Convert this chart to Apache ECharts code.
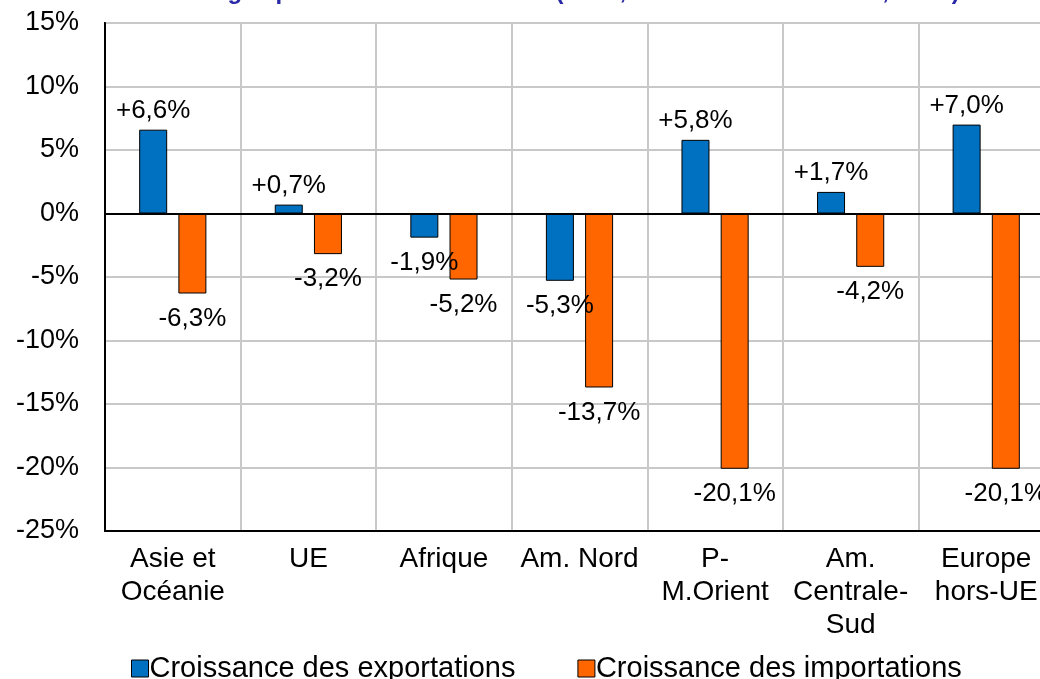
<!DOCTYPE html>
<html>
<head>
<meta charset="utf-8">
<script src="https://cdn.jsdelivr.net/npm/echarts@6/dist/echarts.min.js"></script>
<style>
html,body{margin:0;padding:0;background:#fff;overflow:hidden;}
#c{width:1040px;height:679px;}
</style>
</head>
<body>
<div id="c"></div>
<script>
const titleText = "Évolution des échanges par zone de 2022 à 2023 (en %, hors matériel militaire, en %)";
const categories = ["Asie et\nOcéanie", "UE", "Afrique", "Am. Nord", "P-\nM.Orient", "Am.\nCentrale-\nSud", "Europe\nhors-UE"];
const seriesNames = ["Croissance des exportations", "Croissance des importations"];
const exportsGrowth = [6.6, 0.7, -1.9, -5.3, 5.8, 1.7, 7.0];
const importsGrowth = [-6.3, -3.2, -5.2, -13.7, -20.1, -4.2, -20.1];
const yTicks = { min: -25, max: 15, interval: 5 };

const FONT = "'Liberation Sans', Arial, sans-serif";
const fmt = v => (v > 0 ? '+' : '') + v.toFixed(1).replace('.', ',') + '%';
const toData = arr => arr.map(v => ({
  value: v,
  label: v < 0 ? { position: 'bottom', distance: 12 } : { position: 'top', distance: 6 }
}));

const chart = echarts.init(document.getElementById('c'), null, { renderer: 'canvas' });
chart.setOption({
  animation: false,
  backgroundColor: '#fff',
  textStyle: { fontFamily: FONT },
  graphic: [{
    type: 'text',
    left: -6,
    top: -20,
    style: { text: titleText, fontFamily: FONT, fontSize: 24, fontWeight: 'bold', fill: '#2a2aa8' },
    silent: true
  }],
  grid: {
    left: 105, top: 23, right: -14, bottom: 148,
    outerBoundsMode: 'none',
    show: true, borderColor: '#000', borderWidth: 2, backgroundColor: 'transparent',
    containLabel: false
  },
  legend: {
    data: seriesNames,
    left: 126, top: 649,
    icon: 'rect', itemWidth: 17, itemHeight: 17, itemGap: 62,
    textStyle: { fontFamily: FONT, fontSize: 29, color: '#000', padding: [0, 0, 0, -4] },
    itemStyle: { borderColor: '#000', borderWidth: 1 }
  },
  xAxis: {
    type: 'category',
    data: categories,
    position: 'bottom',
    axisLine: { onZero: false, lineStyle: { color: '#000', width: 2 } },
    axisTick: { show: false },
    splitLine: { show: true, lineStyle: { color: '#c8c8c8', width: 2 } },
    axisLabel: { interval: 0, fontFamily: FONT, fontSize: 28, color: '#000', lineHeight: 33, margin: 12 }
  },
  yAxis: {
    type: 'value',
    min: yTicks.min, max: yTicks.max, interval: yTicks.interval,
    axisLine: { show: true, lineStyle: { color: '#000', width: 2 } },
    axisTick: { show: false },
    splitLine: { show: true, lineStyle: { color: '#c8c8c8', width: 2 } },
    axisLabel: { formatter: v => v + '%', fontFamily: FONT, fontSize: 27, color: '#000', margin: 26 }
  },
  series: [{
    name: seriesNames[0],
    type: 'bar',
    data: toData(exportsGrowth),
    barWidth: 28,
    barGap: '40%',
    itemStyle: { color: '#0070C0', borderColor: '#000', borderWidth: 1 },
    label: { show: true, formatter: p => fmt(p.value), fontFamily: FONT, fontSize: 26, color: '#000' },
    markLine: {
      silent: true, symbol: 'none', animation: false,
      label: { show: false },
      lineStyle: { color: '#000', width: 2, type: 'solid' },
      data: [{ yAxis: 0 }]
    }
  }, {
    name: seriesNames[1],
    type: 'bar',
    data: toData(importsGrowth),
    barWidth: 28,
    barGap: '40%',
    itemStyle: { color: '#FF6600', borderColor: '#000', borderWidth: 1 },
    label: { show: true, formatter: p => fmt(p.value), fontFamily: FONT, fontSize: 26, color: '#000' }
  }]
});
</script>
</body>
</html>
